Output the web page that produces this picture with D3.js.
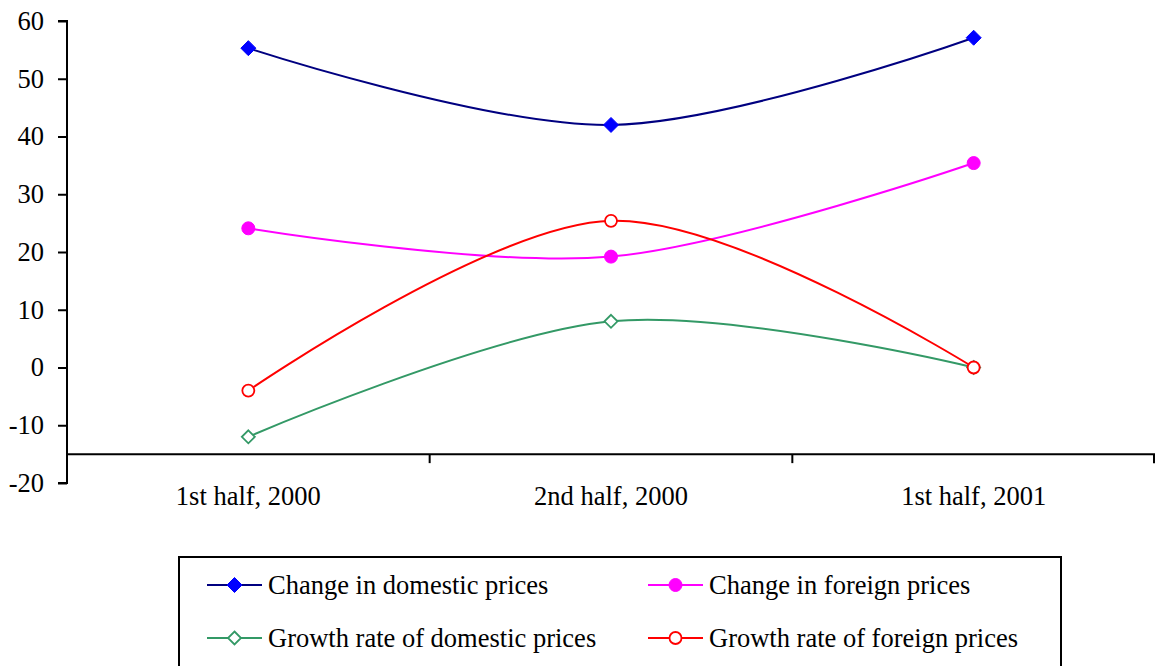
<!DOCTYPE html>
<html>
<head>
<meta charset="utf-8">
<script src="https://cdn.jsdelivr.net/npm/d3@7"></script>
<style>
  html, body { margin: 0; padding: 0; background: #fff; }
  svg { display: block; }
  svg text { font-family: "Liberation Serif", "Times New Roman", serif !important; fill: #000; font-size: 26.5px; }
</style>
</head>
<body>
<svg id="chart" width="1155" height="666"></svg>
<script>
// Half-year periods
const categories = ["1st half, 2000", "2nd half, 2000", "1st half, 2001"];

// Series values (%)
const changeDomestic = [55.3, 42.0, 57.1];
const changeForeign = [24.1, 19.2, 35.4];
const growthDomestic = [-12.0, 8.0, 0.0];
const growthForeign = [-4.0, 25.4, 0.0];

const yTicks = [-20, -10, 0, 10, 20, 30, 40, 50, 60];

const seriesNames = [
  "Change in domestic prices",
  "Change in foreign prices",
  "Growth rate of domestic prices",
  "Growth rate of foreign prices"
];

const series = [
  { name: seriesNames[0], values: changeDomestic, line: "#000080", marker: "diamond", fill: "#0000FF", stroke: "#0000FF" },
  { name: seriesNames[1], values: changeForeign, line: "#FF00FF", marker: "circle", fill: "#FF00FF", stroke: "#FF00FF" },
  { name: seriesNames[2], values: growthDomestic, line: "#339966", marker: "diamond", fill: "#FFFFFF", stroke: "#339966" },
  { name: seriesNames[3], values: growthForeign, line: "#FF0000", marker: "circle", fill: "#FFFFFF", stroke: "#FF0000" }
];

const svg = d3.select("#chart");
const plotLeft = 67, plotRight = 1155, plotTop = 21, plotBottom = 483;

const y = d3.scaleLinear().domain([-20, 60]).range([plotBottom, plotTop]);
const x = d3.scaleBand().domain(categories).range([plotLeft, plotRight]).padding(0);
const cx = d => x(d) + x.bandwidth() / 2;

// Vertical value axis (plain hyphen for negatives)
const yAxis = d3.axisLeft(y).tickValues(yTicks).tickSize(9).tickPadding(14).tickFormat(d => String(d));
const yg = svg.append("g").attr("transform", `translate(${plotLeft},0)`).call(yAxis);
yg.select(".domain").attr("stroke", "#000").attr("stroke-width", 2).attr("d", `M-9,${plotTop}H0V${plotBottom}H-9`);
yg.selectAll(".tick line").attr("stroke", "#000").attr("stroke-width", 2);
yg.selectAll(".tick text").attr("fill", "#000");

// Category axis crossing at -15
const crossY = y(-15);
const xg = svg.append("g").attr("transform", `translate(0,${crossY})`);
xg.append("line").attr("x1", plotLeft).attr("x2", plotRight).attr("y1", 0).attr("y2", 0)
  .attr("stroke", "#000").attr("stroke-width", 2);
const boundaries = categories.map(c => x(c)).concat([plotRight - 1]);
xg.selectAll("line.tk").data(boundaries).join("line").attr("class", "tk")
  .attr("x1", d => d).attr("x2", d => d).attr("y1", 0).attr("y2", 9)
  .attr("stroke", "#000").attr("stroke-width", 2);
xg.selectAll("text.cat").data(categories).join("text").attr("class", "cat")
  .attr("x", d => cx(d)).attr("y", 51).attr("text-anchor", "middle")
  .text(d => d);

// Smoothed lines
const lineGen = d3.line()
  .x((d, i) => cx(categories[i]))
  .y(d => y(d))
  .curve(d3.curveCardinal.tension(0));

const diamond = r => `M0,${-r}L${r},0L0,${r}L${-r},0Z`;

function drawMarker(g, s, px, py) {
  if (s.marker === "diamond") {
    const r = s.fill === "#FFFFFF" ? 6.5 : 7.5;
    g.append("path").attr("d", diamond(r)).attr("transform", `translate(${px},${py})`)
      .attr("fill", s.fill).attr("stroke", s.stroke).attr("stroke-width", s.fill === "#FFFFFF" ? 1.8 : 1);
  } else {
    const r = s.fill === "#FFFFFF" ? 6 : 6.5;
    g.append("circle").attr("cx", px).attr("cy", py).attr("r", r)
      .attr("fill", s.fill).attr("stroke", s.stroke).attr("stroke-width", s.fill === "#FFFFFF" ? 1.8 : 1);
  }
}

const plot = svg.append("g");
series.forEach(s => {
  plot.append("path").datum(s.values).attr("d", lineGen)
    .attr("fill", "none").attr("stroke", s.line).attr("stroke-width", 2);
});
series.forEach(s => {
  s.values.forEach((v, i) => drawMarker(plot, s, cx(categories[i]), y(v)));
});

// Legend
const lg = svg.append("g");
lg.append("rect").attr("x", 179).attr("y", 557).attr("width", 882).attr("height", 130)
  .attr("fill", "#fff").attr("stroke", "#000").attr("stroke-width", 2);
const legendPos = [
  { x: 207, y: 585 }, { x: 648, y: 585 },
  { x: 207, y: 638 }, { x: 648, y: 638 }
];
series.forEach((s, i) => {
  const p = legendPos[i];
  lg.append("line").attr("x1", p.x).attr("x2", p.x + 55).attr("y1", p.y).attr("y2", p.y)
    .attr("stroke", s.line).attr("stroke-width", 2);
  drawMarker(lg, s, p.x + 27.5, p.y);
  lg.append("text").attr("x", p.x + 61).attr("y", p.y).attr("dy", "0.35em")
    .text(s.name);
});
</script>
</body>
</html>
